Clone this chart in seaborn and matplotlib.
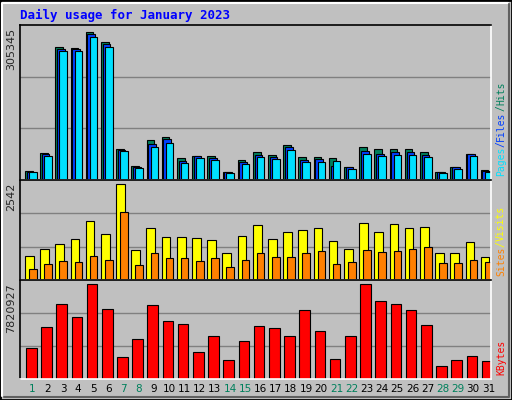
import numpy as np
import matplotlib.pyplot as plt
import seaborn as sns

days = list(range(1, 32))
weekend_days = [1, 7, 8, 14, 15, 21, 22, 28, 29]
hits_top = [502, 448, 132, 135, 88, 118, 438, 487, 411, 403, 465, 457, 457, 505, 471, 445,
            454, 426, 460, 460, 463, 490, 430, 438, 436, 436, 445, 505, 490, 451, 499]
files_top = [505, 453, 138, 140, 95, 125, 440, 490, 421, 409, 472, 459, 463, 507, 476, 454,
             461, 431, 469, 466, 487, 492, 442, 451, 446, 446, 455, 507, 492, 453, 502]
pages_top = [505, 457, 145, 145, 103, 132, 443, 493, 430, 418, 478, 463, 469, 508, 481, 460,
             466, 439, 475, 475, 472, 496, 451, 457, 454, 454, 460, 508, 496, 457, 505]
visits_top = [220, 199, 187, 172, 118, 157, 13, 202, 139, 166, 166, 169, 175, 211, 163, 130,
              172, 151, 145, 139, 178, 199, 124, 151, 127, 139, 136, 211, 211, 181, 223]
sites_top = [259, 244, 235, 238, 220, 232, 94, 247, 211, 226, 226, 235, 226, 253, 232, 211,
             223, 223, 211, 205, 244, 238, 202, 208, 205, 199, 193, 241, 241, 232, 238]
kbytes_top = [496, 436, 370, 406, 313, 385, 523, 472, 373, 418, 427, 508, 463, 532, 478, 433,
              439, 463, 388, 448, 529, 463, 313, 361, 370, 388, 430, 550, 532, 520, 535]

max_hits, max_visits, max_kbytes = 305345, 2542, 7820927
hits = [(530 - t) / 442 * max_hits for t in hits_top]
files = [(530 - t) / 442 * max_hits for t in files_top]
pages = [(530 - t) / 442 * max_hits for t in pages_top]
visits = [(290 - t) / 277 * max_visits for t in visits_top]
sites = [(290 - t) / 277 * max_visits for t in sites_top]
kbytes = [(587 - t) / 274 * max_kbytes for t in kbytes_top]

sns.set_style('white')
plt.rcParams['font.family'] = ['DejaVu Sans Mono']
BG = '#C0C0C0'
W, H = 512, 400
fig = plt.figure(figsize=(W / 100, H / 100), dpi=100, facecolor=BG)

# bevel frame
fig.add_artist(plt.Rectangle((0, 0), 1, 1, transform=fig.transFigure, fill=False, ec='black', lw=2))
fig.add_artist(plt.Line2D([2 / W, 2 / W, 1 - 4 / W], [4 / H, 1 - 3 / H, 1 - 3 / H], color='white', lw=1.5))
fig.add_artist(plt.Line2D([4 / W, 1 - 3 / W, 1 - 3 / W], [3 / H, 3 / H, 1 - 4 / H], color='#606060', lw=1.5))

fig.text(20 / W, 1 - 15 / H, 'Daily usage for January 2023', color='#0000FF', fontsize=9,
         fontweight='bold', va='center')


def panel(y0, y1):
    ax = fig.add_axes([20 / W, 1 - y1 / H, 471 / W, (y1 - y0) / H])
    ax.set_facecolor(BG)
    ax.set_xlim(0.5, 31.5)
    for s in ax.spines.values():
        s.set_linewidth(1.2)
    ax.spines['top'].set_color('black')
    ax.spines['left'].set_color('black')
    ax.spines['right'].set_color('white')
    ax.spines['bottom'].set_color('white')
    ax.set_xticks([])
    ax.set_yticks([])
    return ax


def side_labels(y0, y1, max_text, parts):
    fig.text(11 / W, 1 - y0 / H - 3 / H, max_text, rotation=90, fontsize=8, va='top', ha='center',
             family='DejaVu Sans')
    renderer = fig.canvas.get_renderer()
    y = 1 - y1 / H + 4 / H
    for txt, col in parts:
        t = fig.text(501 / W, y, txt, rotation=90, fontsize=7, color=col, va='bottom', ha='center')
        y += t.get_window_extent(renderer).height / H


# top panel: hits / files / pages
ax1 = panel(25, 180)
ymax1 = max_hits * 463 / 442
ax1.set_ylim(0, ymax1)
for g in (1 / 3, 2 / 3):
    ax1.axhline(ymax1 * g, color='#808080', lw=1, zorder=0)
x = np.array(days)
ax1.bar(x + 0.08, hits, width=0.5, color='#00805C', ec='black', lw=0.8)
ax1.bar(x + 0.19, files, width=0.5, color='#0040FF', ec='black', lw=0.8)
ax1.bar(x + 0.34, pages, width=0.5, color='#00E0FF', ec='black', lw=0.8)
side_labels(25, 180, str(max_hits), [('Pages', '#00E0FF'), ('/', '#0040FF'), ('Files', '#0040FF'),
                                      ('/', '#00805C'), ('Hits', '#00805C')])

# middle panel: visits / sites
ax2 = panel(180, 280)
ymax2 = max_visits * 290 / 277
ax2.set_ylim(0, ymax2)
for g in (1 / 3, 2 / 3):
    ax2.axhline(ymax2 * g, color='#808080', lw=1, zorder=0)
ax2.bar(x + 0.11, visits, width=0.57, color='#FFFF00', ec='black', lw=0.8)
ax2.bar(x + 0.34, sites, width=0.5, color='#FF8000', ec='black', lw=0.8)
side_labels(180, 280, str(max_visits), [('Sites', '#FF8000'), ('/', '#FFFF00'), ('Visits', '#FFFF00')])

# bottom panel: kbytes
ax3 = panel(280, 379)
ymax3 = max_kbytes * 287 / 274
sns.barplot(x=np.arange(31), y=kbytes, ax=ax3, color='#FF0000', width=0.7,
            edgecolor='black', linewidth=0.8, saturation=1)
ax3.set_xlim(-0.5 - 0.24, 30.5 - 0.24)
ax3.set_xticks([])
ax3.set_yticks([])
ax3.set_xlabel('')
ax3.set_ylim(0, ymax3)
for g in (1 / 3, 2 / 3):
    ax3.axhline(ymax3 * g, color='#808080', lw=1, zorder=0)
side_labels(280, 379, str(max_kbytes), [('KBytes', '#FF0000')])

for d in days:
    xf = (20 + (d - 0.5) * 471 / 31 + 5) / W
    col = '#00805C' if d in weekend_days else 'black'
    fig.text(xf, 1 - 389 / H, str(d), color=col, fontsize=7.5, ha='center', va='center',
             family='DejaVu Sans')

plt.savefig('out.png', dpi=100, facecolor=BG)
